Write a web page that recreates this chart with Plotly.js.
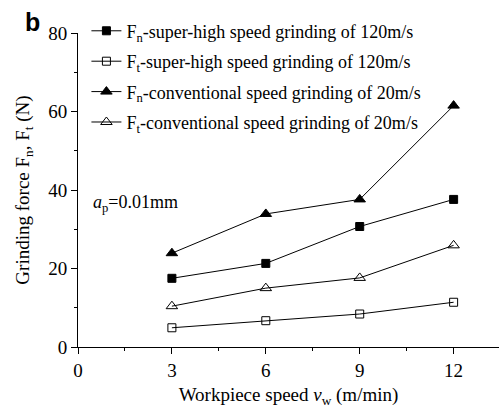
<!DOCTYPE html>
<html><head><meta charset="utf-8">
<script src="https://cdn.plot.ly/plotly-3.0.1.min.js"></script>
<style>body{margin:0;padding:0;background:#fff}#chart{width:499px;height:408px}</style>
</head><body><div id="chart"></div>
<script>
const speeds = [3, 6, 9, 12];
const fnSuper = [17.5, 21.3, 30.7, 37.6];
const ftSuper = [4.9, 6.7, 8.4, 11.4];
const fnConv = [23.9, 33.9, 37.6, 61.5];
const ftConv = [10.4, 15.0, 17.6, 25.9];
const names = [
  'F<sub>n</sub>-super-high speed grinding of 120m/s',
  'F<sub>t</sub>-super-high speed grinding of 120m/s',
  'F<sub>n</sub>-conventional speed grinding of 20m/s',
  'F<sub>t</sub>-conventional speed grinding of 20m/s'
];
const seriesVals = [fnSuper, ftSuper, fnConv, ftConv];
const symbols = ['square', 'square-open', 'triangle-up', 'triangle-up-open'];
const xTicks = [0, 3, 6, 9, 12];
const yTicks = [0, 20, 40, 60, 80];

const FAM = '"Liberation Serif", "Times New Roman", serif';
const f = (s) => ({family: FAM, size: s, color: '#000'});
const traces = seriesVals.map((v, i) => ({
  x: speeds, y: v, name: names[i], type: 'scatter', mode: 'lines+markers',
  legendgroup: 'g' + i,
  line: {color: '#000', width: 1},
  marker: {symbol: symbols[i], size: symbols[i].startsWith('triangle') ? 10 : 8, color: '#000', line: {color: '#000', width: 1}}
}));

const layout = {
  width: 499, height: 408,
  margin: {l: 78, r: 0, t: 33, b: 61},
  paper_bgcolor: '#fff', plot_bgcolor: '#fff',
  font: f(18),
  showlegend: true,
  legend: {x: 0.02, y: 1.065, xanchor: 'left', yanchor: 'top', bgcolor: 'rgba(0,0,0,0)', font: f(18), tracegroupgap: 4},
  xaxis: {
    range: [0, 13.45], tickvals: xTicks, ticktext: xTicks.map(String),
    ticks: 'outside', ticklen: 6, tickwidth: 1, tickcolor: '#000',
    showline: true, linecolor: '#000', linewidth: 1, showgrid: false, zeroline: false,
    minor: {dtick: 1.5, tick0: 0, ticks: 'outside', ticklen: 3, tickcolor: '#000', showgrid: false},
    tickfont: f(19),
    title: {text: 'Workpiece speed <i>v</i><sub>w</sub> (m/min)', font: f(19), standoff: 7}
  },
  yaxis: {
    range: [0, 80], tickvals: yTicks, ticktext: yTicks.map(String),
    ticks: 'outside', ticklen: 6, tickwidth: 1, tickcolor: '#000',
    showline: true, linecolor: '#000', linewidth: 1, showgrid: false, zeroline: false,
    minor: {dtick: 10, tick0: 0, ticks: 'outside', ticklen: 3, tickcolor: '#000', showgrid: false},
    tickfont: f(19),
    title: {text: 'Grinding force F<sub>n</sub>, F<sub>t</sub> (N)', font: f(19), standoff: 13}
  },
  annotations: [
    {text: '<b>b</b>', xref: 'paper', yref: 'paper', x: -0.13, y: 1.085, xanchor: 'left', yanchor: 'top', showarrow: false,
     font: {family: '"Liberation Sans", Arial, sans-serif', size: 25, color: '#000'}},
    {text: '<i>a</i><sub>p</sub>=0.01mm', xref: 'x', yref: 'y', x: 0.42, y: 36.5, xanchor: 'left', yanchor: 'middle', showarrow: false,
     font: f(18)}
  ]
};
Plotly.newPlot('chart', traces, layout, {displayModeBar: false, staticPlot: true});
</script></body></html>
